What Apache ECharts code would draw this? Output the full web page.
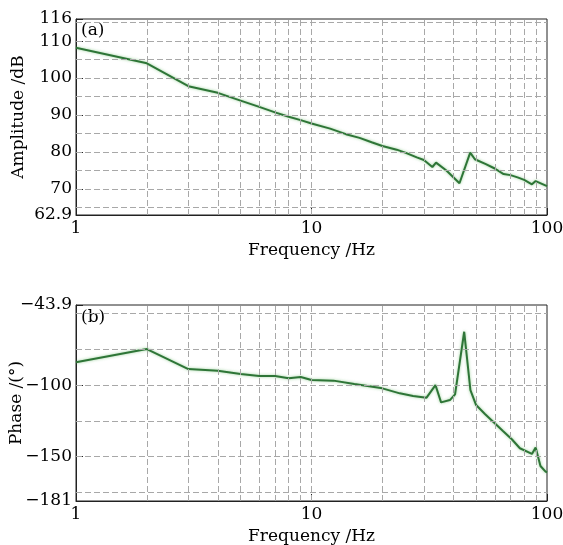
<!DOCTYPE html>
<html><head><meta charset="utf-8">
<script src="https://cdn.jsdelivr.net/npm/echarts@6/dist/echarts.min.js"></script>
<style>html,body{margin:0;padding:0;background:#fff}#c{width:563px;height:545px}</style>
</head><body><div id="c"></div>
<script>
const ampFreq = [1,2,3,4,5,6,7,8,9,10,12,14,16,18,20,23,25,28,30,32.6,33.8,37.5,42.5,47.2,49.4,55,60,65.4,70,75,80,86.3,89.5,100];
const ampValues = [108.2,104.0,97.8,96.0,93.9,92.2,90.7,89.5,88.6,87.7,86.3,84.8,83.8,82.6,81.6,80.6,79.8,78.5,77.8,75.9,77.1,74.9,71.5,79.8,78.0,76.7,75.5,74.0,73.7,73.1,72.4,71.2,72.1,70.7];
const phaseFreq = [1,2,3,4,5,6,7,8,9,10,12.4,15.2,20,23.7,27,30.8,33.6,35.5,38.7,40.7,44.5,47.3,50,54.5,60,65,70.9,76.7,86.3,89.5,93.8,98.6,100];
const phaseValues = [-84.0,-74.7,-88.7,-89.9,-92.2,-93.6,-93.6,-95.2,-94.3,-96.4,-96.8,-99.2,-102.2,-105.7,-107.5,-108.7,-99.9,-112.0,-110.4,-106.4,-62.6,-103.4,-113.9,-120.1,-126.6,-132.0,-137.8,-144.1,-148.1,-143.6,-156.5,-160.5,-161.0];
const freqGridValues = [2,3,4,5,6,7,8,9,10,20,30,40,50,60,70,80,90];
const ampGridValues = [65,70,75,80,85,90,95,100,105,110,115];
const phaseGridValues = [-175,-150,-125,-100,-75,-50];
const ampTicks = [62.9,70,80,90,100,110,116];
const phaseTicks = [-181,-150,-100,-43.9];
const freqTicks = [1,10,100];

const FONT = 'DejaVu Serif';
const gridLineStyle = {color:'#a8a8a8', type:[6,3], width:1};
const fmt = v => String(v).replace('-', '\u2212');

function xAxisCfg(gi){
  return {
    type:'log', logBase:10, min:1, max:100, gridIndex:gi,
    name:'Frequency /Hz', nameLocation:'middle', nameGap:27, nameMoveOverlap:false,
    nameTextStyle:{fontFamily:FONT, fontSize:17, color:'#000'},
    axisLine:{show:true, lineStyle:{color:'#222', width:1}},
    axisTick:{show:true, inside:true, length:7, lineStyle:{color:'#222'}, customValues:freqTicks},
    axisLabel:{fontFamily:FONT, fontSize:17, color:'#000', margin:5, customValues:freqTicks, formatter:fmt},
    splitLine:{show:false}, minorTick:{show:false}, minorSplitLine:{show:false}
  };
}
function yAxisCfg(gi, min, max, name, ticks, gap){
  return {
    type:'value', gridIndex:gi, min:min, max:max,
    name:name, nameLocation:'middle', nameGap:gap, nameMoveOverlap:false,
    nameTextStyle:{fontFamily:FONT, fontSize:17, color:'#000'},
    axisLine:{show:true, lineStyle:{color:'#222', width:1}},
    axisTick:{show:true, inside:true, length:7, lineStyle:{color:'#222'}, customValues:ticks},
    axisLabel:{fontFamily:FONT, fontSize:17, color:'#000', margin:4, customValues:ticks, formatter:fmt},
    splitLine:{show:false}
  };
}
function gridSeries(xi, yi, xs, ys){
  const data = xs.map(v => ({xAxis:v})).concat(ys.map(v => ({yAxis:v})));
  return {
    type:'line', xAxisIndex:xi, yAxisIndex:yi, data:[], z:1, silent:true,
    markLine:{silent:true, symbol:'none', animation:false, label:{show:false},
      lineStyle:gridLineStyle, emphasis:{disabled:true}, data:data}
  };
}
function dataSeries(xi, yi, xs, ys){
  return {
    type:'line', xAxisIndex:xi, yAxisIndex:yi, z:3, symbol:'none', smooth:false,
    data: xs.map((f,i)=>[f, ys[i]]),
    lineStyle:{color:'#2e7537', width:2, shadowColor:'rgba(70,170,70,0.55)', shadowBlur:3},
    animation:false
  };
}

const chart = echarts.init(document.getElementById('c'), null, {renderer:'canvas'});
chart.setOption({
  backgroundColor:'#fff',
  animation:false,
  grid:[
    {left:76, top:19, width:471, height:196, show:true, borderColor:'#222', borderWidth:1, backgroundColor:'transparent', containLabel:false, outerBoundsMode:'none'},
    {left:76, top:305, width:471, height:196, show:true, borderColor:'#222', borderWidth:1, backgroundColor:'transparent', containLabel:false, outerBoundsMode:'none'}
  ],
  xAxis:[xAxisCfg(0), xAxisCfg(1)],
  yAxis:[
    yAxisCfg(0, 62.9, 116, 'Amplitude /dB', ampTicks, 49),
    yAxisCfg(1, -181, -43.9, 'Phase /(\u00b0)', phaseTicks, 51)
  ],
  series:[
    gridSeries(0,0,freqGridValues,ampGridValues),
    dataSeries(0,0,ampFreq,ampValues),
    gridSeries(1,1,freqGridValues,phaseGridValues),
    dataSeries(1,1,phaseFreq,phaseValues)
  ],
  graphic:[
    {type:'text', left:81, top:22, style:{text:'(a)', font:'17px "DejaVu Serif"', fill:'#000'}},
    {type:'text', left:81, top:309, style:{text:'(b)', font:'17px "DejaVu Serif"', fill:'#000'}}
  ]
});
</script></body></html>
